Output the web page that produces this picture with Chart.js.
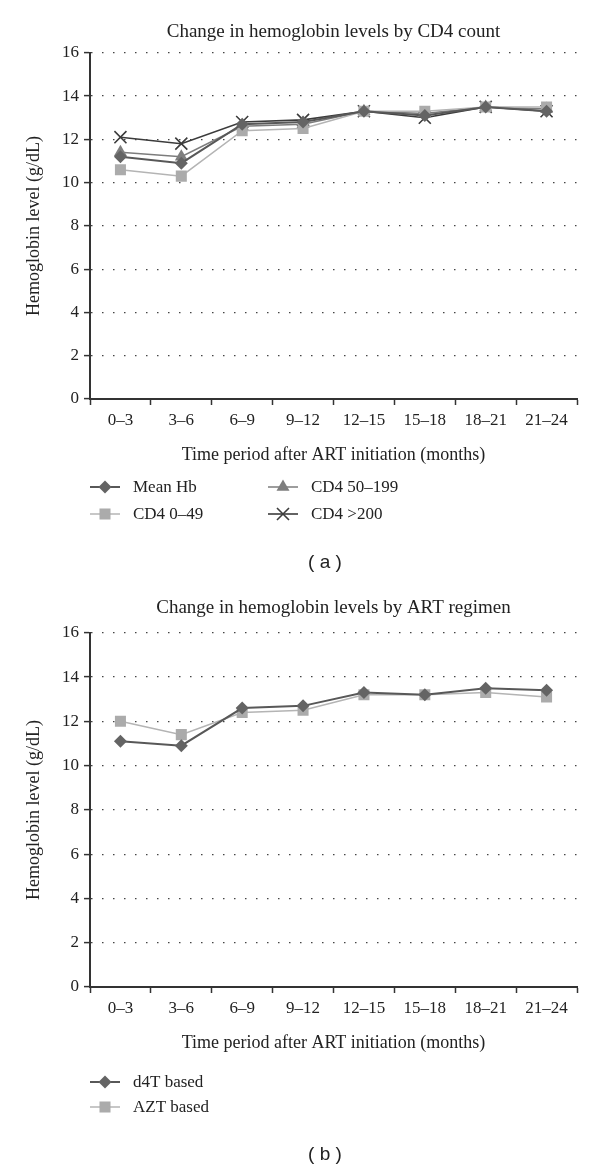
<!DOCTYPE html>
<html>
<head>
<meta charset="utf-8">
<script src="https://cdn.jsdelivr.net/npm/chart.js@4.4.0/dist/chart.umd.min.js"></script>
<style>
  body { margin: 0; background: #fff; }
  #pagina { position: relative; width: 600px; height: 1170px; }
  .caixa { position: absolute; left: 0; width: 600px; }
  .letra { position: absolute; left: 0; width: 650px; text-align: center;
           font-family: "Liberation Sans", Arial, sans-serif; font-size: 19px; color: #222; }
</style>
</head>
<body>
<div id="pagina">
  <div class="caixa" style="top:0;height:585px"><canvas id="graficoA"></canvas></div>
  <div class="letra" style="top:551px">( a )</div>
  <div class="caixa" style="top:585px;height:585px"><canvas id="graficoB"></canvas></div>
  <div class="letra" style="top:1143px">( b )</div>
</div>
<script>
// categorias (eixo x)
var periodos = ['0–3', '3–6', '6–9', '9–12', '12–15', '15–18', '18–21', '21–24']

// grafico (a): hemoglobina por CD4
var mediaHb   = [11.2, 10.9, 12.7, 12.8, 13.3, 13.1, 13.5, 13.3]
var cd4_0_49  = [10.6, 10.3, 12.4, 12.5, 13.3, 13.3, 13.5, 13.5]
var cd4_50_199 = [11.4, 11.2, 12.6, 12.7, 13.3, 13.2, 13.5, 13.4]
var cd4_200   = [12.1, 11.8, 12.8, 12.9, 13.3, 13.0, 13.5, 13.3]

// grafico (b): hemoglobina por regime ART
var d4t = [11.1, 10.9, 12.6, 12.7, 13.3, 13.2, 13.5, 13.4]
var azt = [12.0, 11.4, 12.4, 12.5, 13.2, 13.2, 13.3, 13.1]

Chart.defaults.font.family = '"Liberation Serif", "Times New Roman", serif'
Chart.defaults.font.size = 17
Chart.defaults.color = '#222'

//Legenda com linha + marcador, em colunas
const legendaLinhas = {
  id: 'legendaLinhas',
  afterDraw(chart, args, opts) {
    const ctx = chart.ctx
    const base = chart.chartArea.bottom
    chart.data.datasets.forEach((ds, i) => {
      const x = opts.colunas[Math.floor(i / opts.porColuna)]
      const y = base + opts.linhas[i % opts.porColuna]
      ctx.save()
      ctx.strokeStyle = ds.borderColor
      ctx.lineWidth = ds.borderWidth
      ctx.beginPath()
      ctx.moveTo(x, y)
      ctx.lineTo(x + 30, y)
      ctx.stroke()
      ctx.fillStyle = ds.pointBackgroundColor
      ctx.strokeStyle = ds.pointBorderColor
      ctx.lineWidth = ds.pointBorderWidth
      Chart.helpers.drawPoint(ctx, {
        pointStyle: ds.pointStyle, radius: ds.pointRadius, rotation: 0,
        borderWidth: ds.pointBorderWidth
      }, x + 15, y)
      ctx.fillStyle = '#222'
      ctx.font = '17px "Liberation Serif", serif'
      ctx.textBaseline = 'middle'
      ctx.fillText(ds.label, x + 43, y + 1)
      ctx.restore()
    })
  }
}

function serie(nome, valores, corLinha, corPonto, estilo, raio, largura) {
  return {
    label: nome,
    data: valores,
    borderColor: corLinha,
    borderWidth: largura,
    pointStyle: estilo,
    pointRadius: raio,
    pointBackgroundColor: corPonto,
    pointBorderColor: corPonto,
    pointBorderWidth: estilo == 'crossRot' ? 1.6 : 0,
    tension: 0
  }
}

function opcoes(titulo, tituloPad, baixo, legenda) {
  return {
    responsive: true,
    maintainAspectRatio: false,
    animation: false,
    layout: { padding: { left: 0, right: 23, top: 0, bottom: baixo } },
    plugins: {
      legend: { display: false },
      tooltip: { enabled: false },
      title: {
        display: true, text: titulo, fullSize: false, color: '#222',
        font: { size: 19, weight: 'normal' }, padding: tituloPad
      },
      legendaLinhas: legenda
    },
    scales: {
      x: {
        offset: true,
        afterFit(s) { s.height = 70 },
        grid: { display: true, drawOnChartArea: false, offset: true,
                tickLength: 6, tickColor: '#333', tickWidth: 1.5 },
        border: { display: true, color: '#333', width: 2 },
        ticks: { color: '#222', font: { size: 17 }, padding: 5, maxRotation: 0, autoSkip: false },
        title: { display: true, text: 'Time period after ART initiation (months)',
                 color: '#222', font: { size: 18 }, padding: { top: 0, bottom: 3 } }
      },
      y: {
        min: 0,
        max: 16,
        afterFit(s) { s.width = 90 },
        grid: { color: '#444', lineWidth: 1.2, tickLength: 6, tickColor: '#333', tickWidth: 1.5 },
        border: { display: true, color: '#333', width: 2, dash: [1.5, 9.5] },
        ticks: { stepSize: 2, color: '#222', font: { size: 17 }, padding: 5 },
        title: { display: true, text: 'Hemoglobin level (g/dL)', color: '#222',
                 font: { size: 18 }, padding: { top: 23, bottom: 0 } }
      }
    }
  }
}

//Grafico (a)
new Chart(document.getElementById('graficoA'), {
  type: 'line',
  data: {
    labels: periodos,
    datasets: [
      serie('Mean Hb', mediaHb, '#585858', '#646464', 'rectRot', 6.5, 2),
      serie('CD4 0–49', cd4_0_49, '#b4b4b4', '#ababab', 'rect', 7.8, 1.5),
      serie('CD4 50–199', cd4_50_199, '#7c7c7c', '#7e7e7e', 'triangle', 7.5, 1.5),
      serie('CD4 >200', cd4_200, '#3c3c3c', '#3c3c3c', 'crossRot', 8.5, 1.6)
    ]
  },
  options: opcoes('Change in hemoglobin levels by CD4 count',
                  { top: 21, bottom: 9 }, 116,
                  { colunas: [90, 268], linhas: [88, 115], porColuna: 2 }),
  plugins: [legendaLinhas]
})

//Grafico (b)
new Chart(document.getElementById('graficoB'), {
  type: 'line',
  data: {
    labels: periodos,
    datasets: [
      serie('d4T based', d4t, '#585858', '#646464', 'rectRot', 6.5, 2),
      serie('AZT based', azt, '#b4b4b4', '#ababab', 'rect', 7.8, 1.5)
    ]
  },
  options: opcoes('Change in hemoglobin levels by ART regimen',
                  { top: 12, bottom: 13 }, 113,
                  { colunas: [90], linhas: [95, 120], porColuna: 2 }),
  plugins: [legendaLinhas]
})
</script>
</body>
</html>
